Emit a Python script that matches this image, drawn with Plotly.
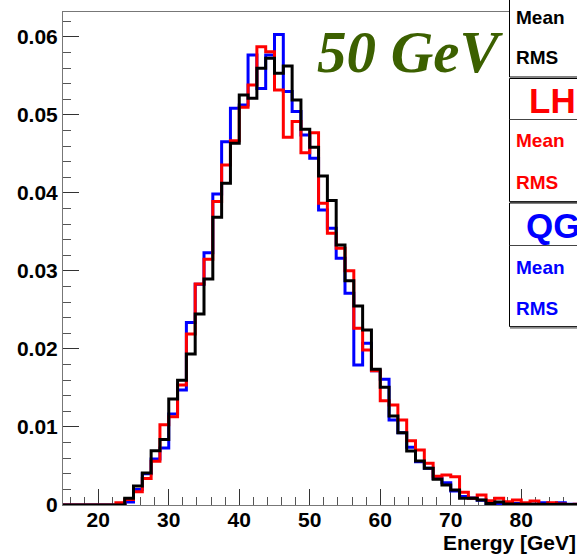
import numpy as np
import plotly.graph_objects as go

# Energy binning: 1.25 GeV bins starting at 15 GeV
bin_width = 1.25
bin_low = [15 + bin_width * i for i in range(60)]

# Normalised energy distributions (fraction of events per bin)
black_vals = [
    0, 0, 0, 0, 0, 0, 0, 0.00086, 0.00244, 0.0041,
    0.00697, 0.0084, 0.01359, 0.0160, 0.01936, 0.02449, 0.02897, 0.03688, 0.04124, 0.04637,
    0.05256, 0.05214, 0.05598, 0.05726, 0.05534, 0.05628, 0.05192, 0.04816, 0.04586, 0.04218,
    0.03902, 0.03333, 0.02876, 0.02551, 0.02244, 0.0174, 0.01509, 0.01141, 0.00927, 0.00692,
    0.00564, 0.0047, 0.0033, 0.00256, 0.00192, 0.00085, 0.00085, 0.00064, 0.0002, 0.0004,
    0.00013, 0.0001, 0.0001, 0.0001, 0.0001, 0.00005, 0.0001, 0.00005, 0.00005, 0.0,
]
lhep_vals = [
    0, 0, 0, 0, 0, 0, 0.0003, 0.0007, 0.0017, 0.0034,
    0.0056, 0.0103, 0.01132, 0.01538, 0.02192, 0.02833, 0.0315, 0.0389, 0.04359, 0.0467,
    0.05098, 0.05385, 0.05876, 0.05812, 0.0532, 0.04714, 0.04915, 0.04517, 0.04773, 0.03868,
    0.03483, 0.0329, 0.03004, 0.02265, 0.01987, 0.0172, 0.01338, 0.01282, 0.0109, 0.00825,
    0.00705, 0.00534, 0.0037, 0.00385, 0.00363, 0.00162, 0.00085, 0.00128, 0.00056, 0.00085,
    0.00043, 0.00064, 0.0003, 0.0005, 0.0, 0.0003, 0.00013, 0.00005, 0.0001, 0.0,
]
qgsp_vals = [
    0, 0, 0, 0, 0, 0, 0, 0.0004, 0.0020, 0.0040,
    0.0059, 0.0073, 0.01167, 0.01474, 0.02338, 0.0283, 0.03235, 0.03987, 0.04658, 0.05085,
    0.05128, 0.0577, 0.0534, 0.0577, 0.0603, 0.053, 0.05043, 0.04744, 0.04444, 0.03782,
    0.03547, 0.03162, 0.02714, 0.01795, 0.02073, 0.0172, 0.01611, 0.0109, 0.00927, 0.0074,
    0.00556, 0.0047, 0.0034, 0.00286, 0.0018, 0.0011, 0.0009, 0.0006, 0.0001, 0.0001,
    0.0001, 0.0002, 0.0001, 0.0001, 0.0003, 0.0001, 0.0003, 0.0001, 0.0001, 0,
]

x_ticks = [20, 30, 40, 50, 60, 70, 80]
y_ticks = [0, 0.01, 0.02, 0.03, 0.04, 0.05, 0.06]
y_tick_text = ["0", "0.01", "0.02", "0.03", "0.04", "0.05", "0.06"]

W, H = 577, 555
PL, PR, PT, PB = 63, 577, 12, 505


def fx(p):
    return (p - PL) / (PR - PL)


def fy(p):
    return (PB - p) / (PB - PT)


def step_xy(vals):
    edges = np.array(bin_low + [bin_low[-1] + bin_width])
    y = np.append(np.array(vals, dtype=float), vals[-1])
    return edges, y


fig = go.Figure()
for vals, color in [(qgsp_vals, "#0000ff"), (lhep_vals, "#ff0000"), (black_vals, "#000000")]:
    sx, sy = step_xy(vals)
    fig.add_trace(go.Scatter(x=sx, y=sy, mode="lines", line=dict(color=color, width=3, shape="hv"),
                             hoverinfo="skip", showlegend=False))

tickfont = dict(family="Liberation Sans", size=21, color="black", weight="bold")
fig.update_layout(
    width=W, height=H,
    margin=dict(l=PL, r=W - PR, t=PT, b=H - PB),
    paper_bgcolor="white", plot_bgcolor="white",
    showlegend=False,
    xaxis=dict(range=[15, 15 + (PR - PL) / 7.05], tickvals=x_ticks, ticks="inside", ticklen=16,
               tickcolor="#333333", tickwidth=1, showline=True, linecolor="#777777", linewidth=1,
               mirror=True, showgrid=False, zeroline=False, tickfont=tickfont,
               ticklabelstandoff=-4, layer="below traces",
               minor=dict(dtick=2, ticks="inside", ticklen=8, tickcolor="#555555", showgrid=False)),
    yaxis=dict(range=[0, 0.0632], tickvals=y_ticks, ticktext=y_tick_text, ticks="inside", ticklen=16,
               tickcolor="#333333", tickwidth=1, showline=True, linecolor="#777777", linewidth=1,
               showgrid=False, zeroline=False, tickfont=tickfont, layer="below traces",
               minor=dict(dtick=0.002, ticks="inside", ticklen=8, tickcolor="#555555", showgrid=False)),
)

# Statistics boxes on the right
shapes = []
boxes = [(-10, 77), (78.5, 201.5), (203, 326.5)]
for y0, y1 in boxes:
    shapes.append(dict(type="rect", xref="paper", yref="paper", x0=fx(509.5), x1=fx(640),
                       y0=fy(y1), y1=fy(y0), fillcolor="white", line=dict(color="black", width=1)))
    shapes.append(dict(type="line", xref="paper", yref="paper", x0=fx(510), x1=fx(640),
                       y0=fy(y1 + 1.2), y1=fy(y1 + 1.2), line=dict(color="#888888", width=2)))
for ysep in [119.5, 245.5]:
    shapes.append(dict(type="line", xref="paper", yref="paper", x0=fx(509.5), x1=fx(640),
                       y0=fy(ysep), y1=fy(ysep), line=dict(color="#444444", width=1)))
fig.update_layout(shapes=shapes)

ann = []


def label(text, x, y, size, color, xanchor="left", family="Liberation Sans", weight="bold", style="normal"):
    ann.append(dict(text=text, x=fx(x), y=fy(y), xref="paper", yref="paper", xanchor=xanchor,
                    yanchor="middle", showarrow=False,
                    font=dict(family=family, size=size, color=color, weight=weight, style=style)))


label("Mean", 514, 17, 19, "black")
label("RMS", 514, 58, 19, "black")
label("LHEP", 527, 100.5, 35, "#ff0000")
label("Mean", 514, 141, 19, "#ff0000")
label("RMS", 514, 182, 19, "#ff0000")
label("QGSP", 524, 225.5, 35, "#0000ff")
label("Mean", 514, 267.5, 19, "#0000ff")
label("RMS", 514, 308, 19, "#0000ff")

label("50 GeV", 410, 52, 59, "#3c6000", xanchor="center", family="Liberation Serif", style="italic")
label("Energy [GeV]", 578, 542.5, 21, "black", xanchor="right")
fig.update_layout(annotations=ann)

fig.write_html("out.html")
